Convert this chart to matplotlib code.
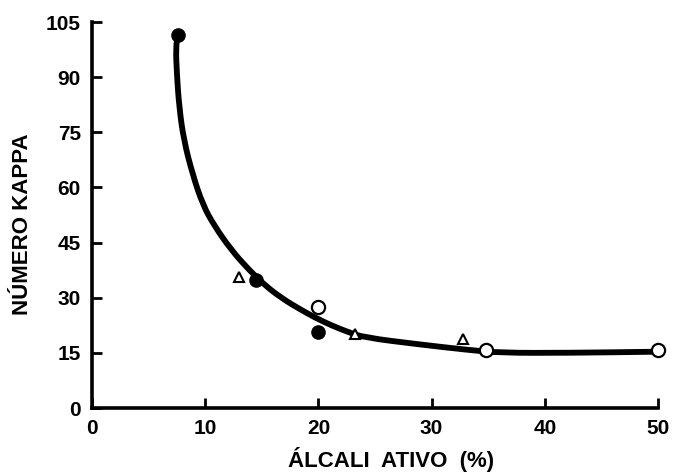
import matplotlib
matplotlib.use("Agg")
import matplotlib.pyplot as plt
from matplotlib.path import Path
from matplotlib.patches import PathPatch

# Fitted curve (active alkali %, kappa number)
curve_x = [7.6, 7.4, 7.5, 7.7, 8.1, 8.9, 9.8, 10.8, 12.3, 13.8, 15.3,
           16.8, 18.3, 19.7, 21.2, 22.6, 24.0, 28.9, 33.2, 36.1, 42.1, 49.6]
curve_y = [101.5, 98.2, 90.7, 82.0, 73.0, 63.4, 55.2, 49.6, 43.0, 37.8, 33.3,
           29.8, 27.0, 24.6, 22.4, 20.7, 19.2, 17.3, 15.8, 15.0, 15.0, 15.3]

# Measured points, three marker types
filled_x = [7.6, 14.5, 20.0]
filled_y = [101.5, 34.9, 20.7]
open_x = [20.0, 34.8, 50.0]
open_y = [27.5, 15.8, 15.8]
tri_x = [13.0, 23.2, 32.8]
tri_y = [35.5, 20.1, 18.7]

x_ticks = [0, 10, 20, 30, 40, 50]
y_ticks = [0, 15, 30, 45, 60, 75, 90, 105]


def smooth_path(xs, ys):
    # quadratic bezier through midpoints, read points act as control points
    pts = list(zip(xs, ys))
    verts = [pts[0]]
    codes = [Path.MOVETO]
    mid = lambda a, b: ((a[0] + b[0]) / 2, (a[1] + b[1]) / 2)
    verts.append(mid(pts[0], pts[1]))
    codes.append(Path.LINETO)
    for i in range(1, len(pts) - 1):
        verts += [pts[i], mid(pts[i], pts[i + 1])]
        codes += [Path.CURVE3, Path.CURVE3]
    verts.append(pts[-1])
    codes.append(Path.LINETO)
    return Path(verts, codes)


plt.rcParams["font.family"] = ["Liberation Sans", "DejaVu Sans"]
plt.rcParams["font.weight"] = "bold"

fig = plt.figure(figsize=(6.75, 4.73), dpi=100)
ax = fig.add_axes([92 / 675, 1 - 408 / 473, (658 - 92) / 675, (408 - 22) / 473])

ax.add_patch(PathPatch(smooth_path(curve_x, curve_y), fill=False, edgecolor="black",
                       lw=4.2, capstyle="round", joinstyle="round", zorder=2))
ax.plot(filled_x, filled_y, "o", ms=9.5, color="black", zorder=3, clip_on=False)
ax.plot(open_x, open_y, "o", ms=9.5, mfc="white", mec="black", mew=1.6,
        zorder=3, clip_on=False)
ax.plot(tri_x, tri_y, "^", ms=7.5, mfc="white", mec="black", mew=1.5,
        zorder=3, clip_on=False)

ax.set_xlim(0, 50)
ax.set_ylim(0, 105)
ax.set_xticks(x_ticks)
ax.set_yticks(y_ticks)

ax.spines[["top", "right"]].set_visible(False)
for side in ["left", "bottom"]:
    ax.spines[side].set_linewidth(2.6)
ax.tick_params(direction="in", length=7, width=2, labelsize=15, pad=8)

ax.set_xlabel("ÁLCALI  ATIVO  (%)", fontsize=16, fontweight="bold")
ax.set_ylabel("NÚMERO KAPPA", fontsize=16, fontweight="bold")
ax.xaxis.set_label_coords(0.528, -0.100)
ax.yaxis.set_label_coords(-0.104, 0.477)

fig.savefig("out.png", dpi=100)
